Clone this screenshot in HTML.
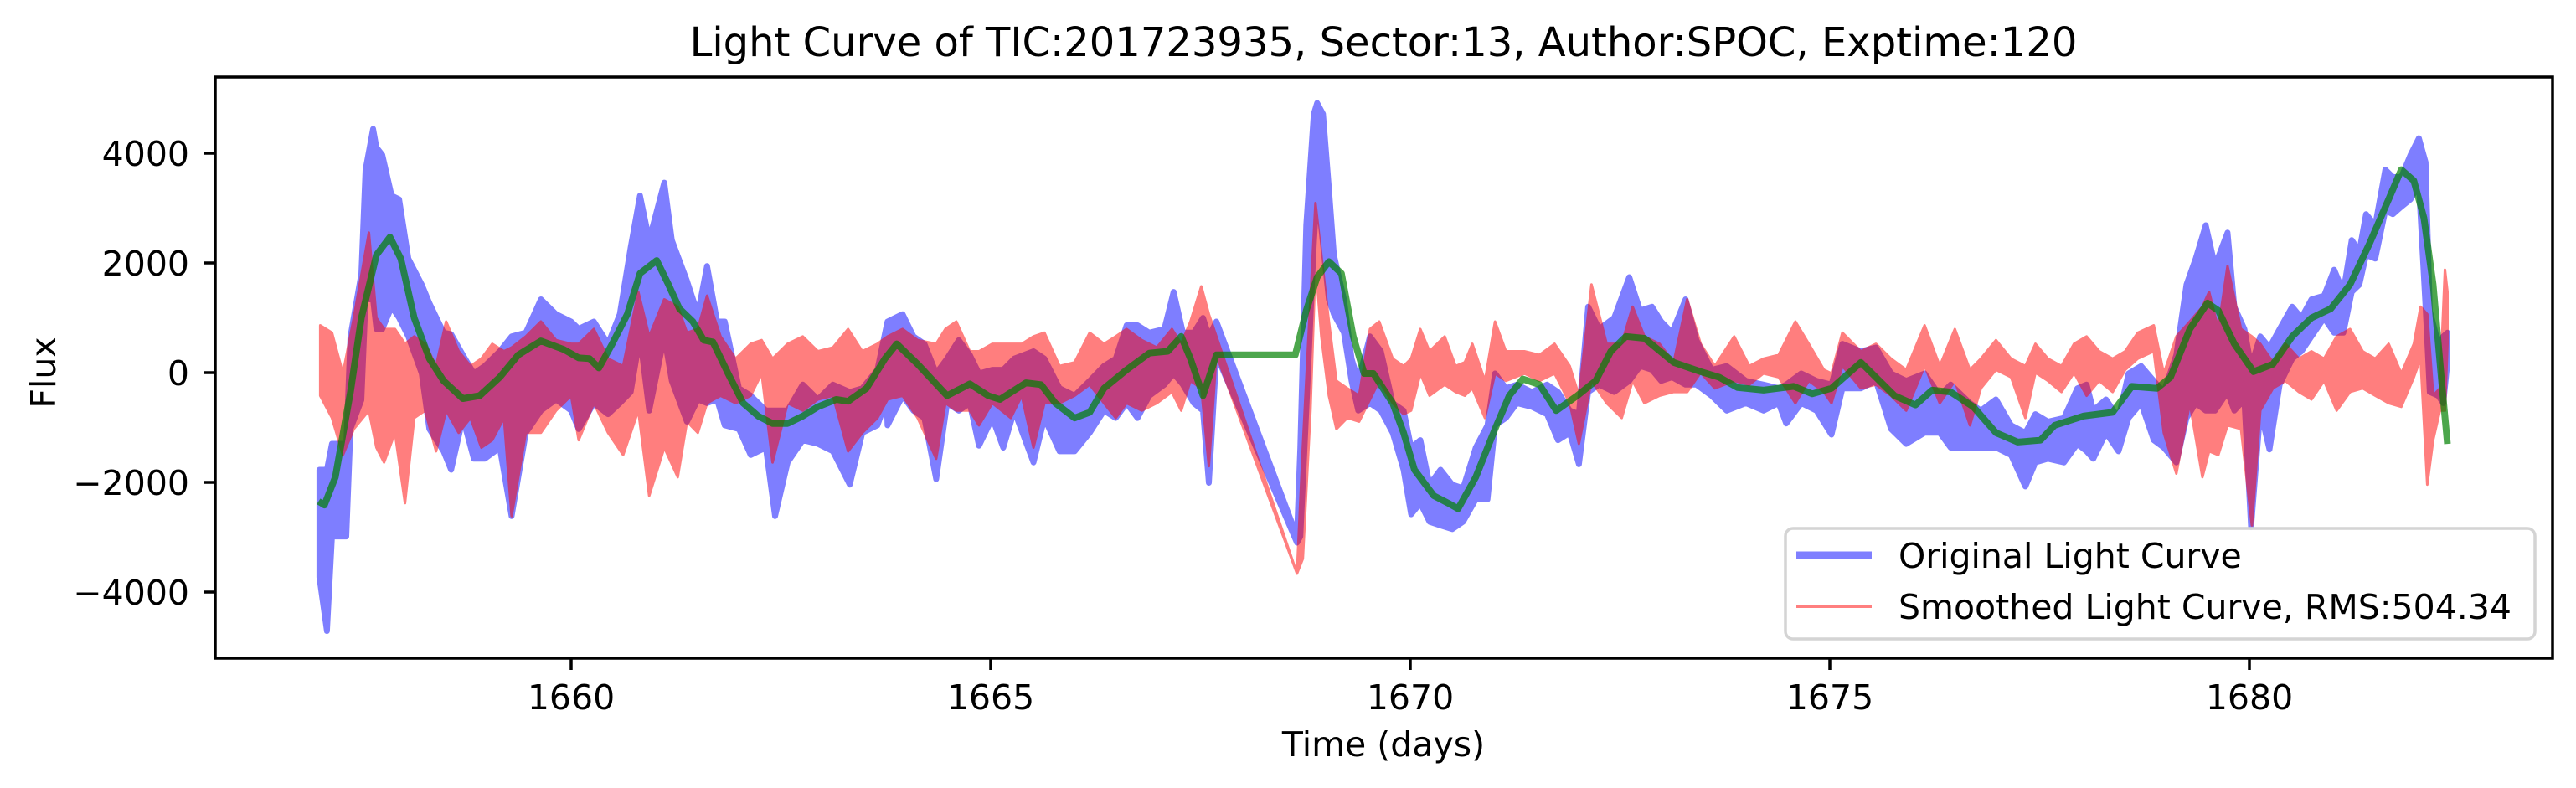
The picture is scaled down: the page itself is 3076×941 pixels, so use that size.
<!DOCTYPE html>
<html><head><meta charset="utf-8"><title>Light Curve</title>
<style>
html,body{margin:0;padding:0;background:#fff;}
svg{display:block;font-family:"DejaVu Sans","Liberation Sans",sans-serif;}
</style></head>
<body>
<svg id="chart" width="3076" height="941" viewBox="0 0 3076 941" xmlns="http://www.w3.org/2000/svg">
<rect x="0" y="0" width="3076" height="941" fill="#fff"/>
<text x="1652" y="67" font-size="48" text-anchor="middle" fill="#000">Light Curve of TIC:201723935, Sector:13, Author:SPOC, Exptime:120</text>
<defs><clipPath id="plotclip"><rect x="257" y="92" width="2791" height="694"/></clipPath></defs>
<g id="series" clip-path="url(#plotclip)">
<g id="blueg" opacity="0.5"></g>
<g id="redg" opacity="0.5"></g>
<g id="greeng" opacity="0.7"></g>
</g>
<rect x="257" y="92" width="2791" height="694" fill="none" stroke="#000" stroke-width="3.5"/>
<g id="xticks"></g>
<g id="yticks"></g>
<text x="1652" y="903" font-size="41" text-anchor="middle">Time (days)</text>
<text x="0" y="0" font-size="41" text-anchor="middle" transform="translate(66,445) rotate(-90)">Flux</text>
<g>
<rect x="2132" y="631" width="895" height="132" rx="9" fill="#fff" fill-opacity="0.8" stroke="#d4d4d4" stroke-width="3.5"/>
<line x1="2145" y1="663" x2="2235" y2="663" stroke="rgba(0,0,255,0.5)" stroke-width="9"/>
<text x="2267" y="678" font-size="41">Original Light Curve</text>
<line x1="2145" y1="724" x2="2235" y2="724" stroke="rgba(255,0,0,0.5)" stroke-width="4"/>
<text x="2267" y="739" font-size="41">Smoothed Light Curve, RMS:504.34</text>
</g>
</svg>
<script>
const xTicks = [1660, 1665, 1670, 1675, 1680];
const yTicks = [-4000, -2000, 0, 2000, 4000];
const yTickLabels = ["\u22124000", "\u22122000", "0", "2000", "4000"];

const origT = [1657.00,1657.09,1657.15,1657.24,1657.32,1657.37,1657.50,1657.55,1657.64,1657.68,1657.75,1657.86,1657.95,1658.06,1658.22,1658.31,1658.48,1658.57,1658.71,1658.84,1658.97,1659.15,1659.29,1659.46,1659.64,1659.82,1660.00,1660.09,1660.27,1660.44,1660.58,1660.71,1660.82,1660.93,1661.11,1661.20,1661.38,1661.51,1661.62,1661.74,1661.83,1662.00,1662.14,1662.32,1662.43,1662.58,1662.76,1662.94,1663.12,1663.32,1663.47,1663.65,1663.76,
1663.77,1663.95,1664.08,1664.21,1664.35,1664.48,1664.62,1664.75,1664.86,1665.02,1665.15,1665.28,1665.51,1665.64,1665.82,1666.00,1666.18,1666.35,1666.49,1666.62,1666.75,1666.89,1667.07,1667.18,1667.29,1667.42,1667.53,1667.60,1667.69,1668.65,1668.69,1668.76,1668.85,1668.89,1668.96,1669.03,1669.09,1669.21,1669.30,1669.38,1669.52,1669.65,1669.79,1669.92,1670.01,1670.12,1670.23,1670.36,1670.50,1670.63,
1670.78,1670.92,1671.01,1671.14,1671.27,1671.45,1671.63,1671.76,1671.90,1672.01,1672.12,1672.25,1672.43,1672.61,1672.74,1672.88,1672.99,1673.12,1673.28,1673.41,1673.59,1673.77,1674.00,1674.21,1674.39,1674.48,1674.66,1674.84,1675.02,1675.15,1675.37,1675.55,1675.73,1675.91,1676.13,1676.31,1676.44,1676.67,1676.80,1676.98,1677.16,1677.33,1677.45,
1677.60,1677.79,1677.95,1678.06,1678.14,1678.29,1678.44,1678.56,1678.71,1678.86,1678.98,1679.13,1679.25,1679.36,1679.48,1679.59,1679.74,1679.82,1679.94,1680.02,1680.13,1680.24,1680.36,1680.51,1680.62,1680.74,1680.89,1681.01,1681.12,1681.22,1681.31,1681.39,1681.50,1681.62,1681.71,1681.81,1681.92,1682.02,1682.10,1682.15,1682.25,1682.31,1682.36];
const origHi = [-1771,-1771,-1298,-1298,-1298,660,1800,3700,4443,4105,3970,3227,3160,2079,1606,1268,728,700,323,-15,120,390,660,728,1336,1066,931,800,931,525,1066,2282,3227,2417,3464,2417,1674,1066,1944,931,931,-285,-420,-691,-691,-691,-218,-488,-218,-353,-285,52,863,
931,1066,660,525,-15,255,593,323,-15,52,52,255,390,255,-285,-420,-150,120,255,863,863,728,796,1471,728,728,998,660,931,-2987,-1366,2687,4714,4916,4714,3363,2147,1336,255,-150,660,390,-555,-691,-1366,-1231,-2041,-1771,-2041,-2109,
-1366,-961,-15,-285,-218,-353,-218,-353,-691,-758,1201,796,998,1741,1133,1201,931,728,1336,593,52,120,-150,-218,-285,-218,-15,-150,-218,525,390,458,-15,-150,-15,-420,-218,-555,-691,-488,-961,-1096,-758,
-893,-826,-285,-218,-691,-488,-826,-15,120,-150,-353,323,1606,2079,2687,1944,2552,1201,796,120,660,458,796,1201,998,1336,1403,1876,1471,2417,2214,2890,2687,3700,3565,3565,3970,4274,3835,1133,525,660,728];
const origLo = [-3730,-4710,-2987,-2987,-2987,-1028,-500,1336,1336,796,796,1201,998,660,-15,-1028,-1434,-1771,-826,-1569,-1569,-1366,-2616,-1096,-691,-488,-691,-1028,-555,-758,-555,-353,660,-691,660,-150,-893,-488,-555,-488,-961,-1028,-1501,-1366,-2616,-1636,-1231,-1298,-1434,-2041,-1096,-961,-488,
-961,-420,-691,-826,-1940,-555,-691,-555,-1332,-826,-1366,-691,-1636,-826,-1434,-1434,-1096,-691,-826,-555,-826,-420,-218,-15,-218,-555,-691,-2008,323,-3100,-2987,-691,2349,3363,2349,1336,1066,728,-150,-691,-555,-691,-1096,-1771,-2582,-2379,-2717,-2784,-2852,-2717,
-2312,-2312,-961,-826,-555,-623,-758,-1231,-1096,-1670,-353,-218,-353,-150,120,52,-150,-83,-218,-218,-420,-691,-555,-691,-555,-927,-555,-691,-1130,-285,-285,-150,-1028,-1298,-1096,-1096,-1366,-1366,-1366,-1366,-1501,-2075,-1636,
-1569,-1636,-1298,-1434,-1569,-1096,-1434,-826,-555,-1231,-1366,-1636,-826,-555,-691,-691,-353,-691,-488,-2818,-691,-1400,-218,255,390,660,998,728,728,1471,1606,2147,2079,2957,2890,3025,3160,3430,1201,-353,-420,-555,188];

const smT = [1657.01,1657.15,1657.28,1657.41,1657.59,1657.68,1657.77,1657.90,1658.02,1658.13,1658.26,1658.39,1658.51,1658.66,1658.80,1658.93,1659.06,1659.20,1659.29,1659.46,1659.64,1659.82,1660.00,1660.09,1660.27,1660.44,1660.62,1660.80,1660.93,1661.11,1661.27,1661.38,1661.51,1661.62,1661.78,1661.96,1662.14,1662.27,1662.40,1662.58,1662.76,1662.94,1663.12,1663.30,1663.47,1663.65,
1663.77,1663.95,1664.13,1664.35,1664.46,1664.59,1664.75,1664.86,1665.02,1665.24,1665.37,1665.51,1665.64,1665.82,1666.00,1666.18,1666.35,1666.49,1666.62,1666.80,1666.98,1667.16,1667.27,1667.38,1667.51,1667.60,1667.69,1668.65,1668.72,1668.81,1668.87,1668.94,1669.03,1669.12,1669.25,1669.39,1669.52,1669.63,1669.79,1669.92,1670.01,1670.12,1670.23,1670.41,1670.54,1670.65,
1670.74,1670.89,1671.01,1671.14,1671.36,1671.54,1671.72,1671.90,1672.01,1672.16,1672.34,1672.52,1672.65,1672.79,1672.97,1673.14,1673.30,1673.46,1673.63,1673.86,1674.04,1674.21,1674.39,1674.59,1674.75,1674.93,1675.02,1675.15,1675.37,1675.55,1675.73,1675.91,1676.13,1676.31,1676.49,1676.67,1676.80,1676.98,1677.16,1677.33,1677.45,
1677.60,1677.76,1677.91,1678.06,1678.21,1678.37,1678.52,1678.67,1678.86,1678.98,1679.13,1679.29,1679.44,1679.52,1679.63,1679.74,1679.90,1680.03,1680.13,1680.28,1680.43,1680.59,1680.74,1680.89,1681.04,1681.20,1681.35,1681.50,1681.66,1681.81,1681.96,1682.04,1682.12,1682.19,1682.27,1682.33,1682.36];
const smHi = [863,728,-15,998,2552,998,796,796,525,660,525,120,931,390,120,255,525,390,458,660,931,593,525,525,796,255,120,1471,660,1336,1201,728,796,1403,660,255,525,593,255,525,660,390,458,796,390,525,
660,796,593,525,796,931,390,390,525,525,525,660,728,120,188,728,525,660,796,593,458,796,525,931,1572,1066,660,-3663,-1366,1336,3092,2147,931,-150,-285,-420,796,931,255,120,255,796,390,660,120,188,
525,-150,931,390,390,323,525,120,-420,1606,525,525,1201,660,525,188,1336,525,120,660,120,255,323,931,525,52,-15,728,390,525,255,52,863,120,796,52,255,593,255,120,525,
255,120,525,660,390,255,390,728,863,-15,660,931,1201,1471,796,1944,796,660,525,188,525,255,390,255,660,796,390,255,525,-15,525,1201,1066,-420,-285,1876,1471];
const smLo = [-420,-826,-1501,-1028,-691,-1366,-1636,-1096,-2379,-826,-691,-1434,-691,-1096,-826,-1366,-1231,-826,-2616,-1096,-1096,-691,-420,-1231,-555,-1096,-1501,-691,-2244,-1366,-1906,-893,-1096,-555,-420,-555,-420,-15,-1636,-555,-691,-488,-420,-1434,-1096,-826,
-488,-420,-826,-1569,-555,-691,-691,-961,-555,-826,-420,-1366,-555,-555,-420,-218,-555,-826,-555,-691,-555,-353,-691,-150,-285,-1704,323,-3663,-3392,-691,2011,660,-420,-1028,-826,-893,-488,-150,-555,-758,-691,-15,-420,-218,-353,-420,
-285,-826,-15,-150,-15,-150,-15,-555,-1298,-150,-555,-826,-150,-555,-420,-353,-353,0,-285,-150,-218,-15,-83,-555,-150,-353,-555,120,-285,-218,-420,-691,120,-555,-150,-961,-285,52,-83,-826,0,
-150,-353,0,-420,-150,-353,52,255,390,-1096,-1839,-555,-1906,-1434,-1501,-961,-1028,-2784,-691,-285,-150,-353,-488,-150,-691,-353,-285,-420,-555,-623,-83,255,-2041,-1231,-691,-691,525];

const trendT = [1656.99,1657.06,1657.19,1657.37,1657.50,1657.68,1657.84,1657.97,1658.13,1658.31,1658.48,1658.71,1658.91,1659.15,1659.37,1659.64,1659.91,1660.09,1660.22,1660.33,1660.49,1660.67,1660.82,1661.02,1661.16,1661.29,1661.45,1661.58,1661.69,1661.87,1662.05,1662.23,1662.40,1662.58,1662.76,1662.94,1663.16,1663.30,1663.52,1663.74,1663.88,1664.13,1664.48,1664.75,1664.97,1665.11,1665.42,1665.60,1665.77,1666.00,1666.18,1666.35,1666.62,1666.89,1667.11,1667.27,1667.38,1667.53,1667.69,1668.63,1668.76,1668.89,1669.03,1669.18,1669.32,1669.45,1669.56,1669.79,1669.92,1670.05,1670.28,1670.45,1670.57,1670.78,1671.01,1671.18,1671.34,1671.54,1671.74,1671.99,1672.21,1672.39,1672.57,1672.79,1673.14,1673.46,1673.68,1673.90,1674.21,1674.57,1674.79,1675.02,1675.37,1675.77,1676.02,1676.22,1676.44,1676.71,1676.98,1677.24,1677.51,1677.68,1678.02,1678.37,1678.60,1678.90,1679.06,1679.29,1679.50,1679.63,1679.82,1680.05,1680.28,1680.51,1680.74,1680.97,1681.20,1681.43,1681.66,1681.81,1681.96,1682.08,1682.19,1682.29,1682.36];
const trendV = [-2346,-2413,-1906,-353,998,2147,2471,2079,998,255,-150,-474,-420,-82,323,579,424,269,255,86,525,1066,1809,2045,1606,1167,931,593,559,-15,-555,-792,-927,-927,-792,-623,-488,-522,-285,255,525,154,-420,-204,-420,-488,-184,-218,-555,-826,-724,-285,52,356,390,660,255,-420,323,323,1133,1741,2025,1809,660,-15,-15,-555,-1096,-1771,-2244,-2379,-2481,-1906,-1028,-420,-116,-218,-691,-420,-150,390,660,626,187,19,-82,-271,-319,-251,-386,-285,187,-420,-589,-319,-353,-623,-1096,-1265,-1231,-961,-792,-724,-251,-285,-82,795,1268,1133,525,19,154,660,998,1167,1606,2349,3160,3700,3498,2822,1606,-150,-1299];

const D0 = 1660, PX_PER_DAY = 100.2, DX0 = 682;
const F_PX = 0.0655, FY0 = 445;
const X0 = 257, Y1 = 786;
function xScale(d){ return DX0 + (d - D0) * PX_PER_DAY; }
function yScale(f){ return FY0 - f * F_PX; }

const NS = "http://www.w3.org/2000/svg";

function bandPolygon(t, hi, lo){
  const top = [], bot = [];
  for (let i = 0; i < t.length; i++){
    const x = xScale(t[i]).toFixed(1);
    top.push(x + ',' + yScale(hi[i]).toFixed(1));
    bot.push(x + ',' + yScale(lo[i]).toFixed(1));
  }
  return top.concat(bot.reverse()).join(' ');
}

const blue = document.createElementNS(NS, 'polygon');


blue.setAttribute('points', bandPolygon(origT, origHi, origLo));
blue.setAttribute('fill', '#0000ff');
blue.setAttribute('stroke', '#0000ff');
blue.setAttribute('stroke-width', '7');
blue.setAttribute('stroke-linejoin', 'round');
document.getElementById('blueg').appendChild(blue);

const red = document.createElementNS(NS, 'polygon');


red.setAttribute('points', bandPolygon(smT, smHi, smLo));
red.setAttribute('fill', '#ff0000');
red.setAttribute('stroke', '#ff0000');
red.setAttribute('stroke-width', '3');
red.setAttribute('stroke-linejoin', 'round');
document.getElementById('redg').appendChild(red);

const green = document.createElementNS(NS, 'polyline');


green.setAttribute('points', trendT.map((t,i)=>xScale(t).toFixed(1)+','+yScale(trendV[i]).toFixed(1)).join(' '));
green.setAttribute('fill', 'none');
green.setAttribute('stroke', '#008000');
green.setAttribute('stroke-width', '8');
green.setAttribute('stroke-linejoin', 'round');
document.getElementById('greeng').appendChild(green);

const xg = document.getElementById('xticks');
xTicks.forEach(v => {
  const x = xScale(v);
  const l = document.createElementNS(NS, 'line');
  
  
  l.setAttribute('x1', x); l.setAttribute('x2', x);
  l.setAttribute('y1', Y1); l.setAttribute('y2', Y1 + 14);
  l.setAttribute('stroke', '#000'); l.setAttribute('stroke-width', '3.5');
  xg.appendChild(l);
  const t = document.createElementNS(NS, 'text');
  
  
  t.setAttribute('x', x); t.setAttribute('y', 847);
  t.setAttribute('font-size', '41'); t.setAttribute('text-anchor', 'middle');
  t.textContent = String(v);
  xg.appendChild(t);
});

const yg = document.getElementById('yticks');
yTicks.forEach((v, i) => {
  const y = yScale(v);
  const l = document.createElementNS(NS, 'line');
  
  
  l.setAttribute('x1', X0 - 14); l.setAttribute('x2', X0);
  l.setAttribute('y1', y); l.setAttribute('y2', y);
  l.setAttribute('stroke', '#000'); l.setAttribute('stroke-width', '3.5');
  yg.appendChild(l);
  const t = document.createElementNS(NS, 'text');
  
  
  t.setAttribute('x', 226); t.setAttribute('y', y + 15);
  t.setAttribute('font-size', '41'); t.setAttribute('text-anchor', 'end');
  t.textContent = yTickLabels[i];
  yg.appendChild(t);
});
</script>
</body></html>
